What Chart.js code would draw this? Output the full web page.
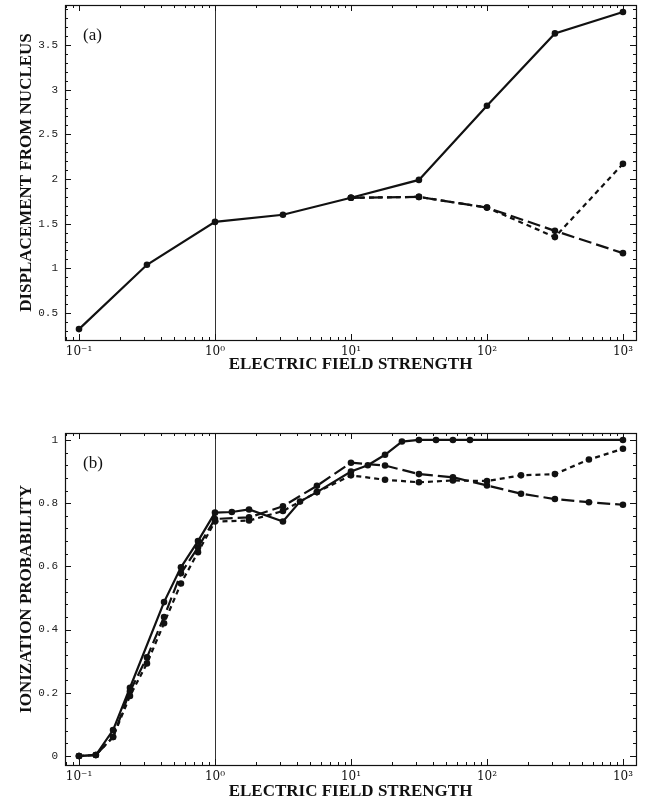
<!DOCTYPE html>
<html lang="en">
<head>
<meta charset="UTF-8">
<title>Electric field strength</title>
<script src="https://cdn.jsdelivr.net/npm/chart.js"></script>
<style>
  body { margin: 0; background: #fff; }
  canvas { display: block; }
</style>
</head>
<body>
<canvas id="chartA" width="645" height="400"></canvas>
<canvas id="chartB" width="645" height="405"></canvas>
<script>
// (a) displacement from nucleus
const fieldA = [0.1, 0.316, 1, 3.16, 10, 31.6, 100, 316, 1000];
const dispSolid = [0.32, 1.04, 1.52, 1.60, 1.79, 1.99, 2.82, 3.63, 3.87];
const fieldA2 = [10, 31.6, 100, 316, 1000];
const dispLong = [1.79, 1.80, 1.68, 1.42, 1.17];
const dispShort = [1.79, 1.80, 1.68, 1.35, 2.17];

// (b) ionization probability
const fieldSolid = [0.1, 0.133, 0.178, 0.237, 0.422, 0.562, 0.75, 1, 1.33, 1.78, 3.16, 4.22, 5.62,
                    10, 13.3, 17.8, 23.7, 31.6, 42.2, 56.2, 75, 1000];
const ionSolid = [0, 0.003, 0.082, 0.216, 0.487, 0.597, 0.68, 0.77, 0.772, 0.78, 0.742, 0.805, 0.835,
                  0.90, 0.92, 0.953, 0.995, 1, 1, 1, 1, 1];
const fieldDash = [0.1, 0.133, 0.178, 0.237, 0.316, 0.422, 0.562, 0.75, 1, 1.78, 3.16, 5.62,
                   10, 17.8, 31.6, 56.2, 100, 178, 316, 562, 1000];
const ionLong = [0, 0.003, 0.06, 0.205, 0.312, 0.44, 0.578, 0.66, 0.75, 0.755, 0.79, 0.855,
                 0.928, 0.919, 0.892, 0.882, 0.856, 0.83, 0.813, 0.803, 0.795];
const ionShort = [0, 0.003, 0.06, 0.19, 0.293, 0.42, 0.546, 0.645, 0.742, 0.745, 0.775, 0.835,
                  0.888, 0.874, 0.866, 0.872, 0.870, 0.888, 0.892, 0.938, 0.972];

// axes
const xTicks = [0.1, 1, 10, 100, 1000];
const xTickLabels = ['10⁻¹', '10⁰', '10¹', '10²', '10³'];
const yTicksA = [0.5, 1, 1.5, 2, 2.5, 3, 3.5];
const yLabelsA = ['0.5', '1', '1.5', '2', '2.5', '3', '3.5'];
const yTicksB = [0, 0.2, 0.4, 0.6, 0.8, 1];
const yLabelsB = ['0', '0.2', '0.4', '0.6', '0.8', '1'];

const ink = '#111';

// frame with inward ticks, the line at E = 1 and the panel label
const frame = {
  id: 'frame',
  beforeDatasetsDraw(chart) {
    const {ctx, chartArea: a, scales: {x}} = chart;
    const px = Math.round(x.getPixelForValue(1)) + 0.5;
    ctx.save();
    ctx.strokeStyle = '#333';
    ctx.lineWidth = 1;
    ctx.beginPath();
    ctx.moveTo(px, a.top);
    ctx.lineTo(px, a.bottom);
    ctx.stroke();
    ctx.restore();
  },
  afterDraw(chart, args, opts) {
    const {ctx, chartArea: a, scales: {x, y}} = chart;
    ctx.save();
    ctx.strokeStyle = ink;
    ctx.lineWidth = 1.2;
    ctx.strokeRect(a.left + 0.5, a.top + 0.5, a.width, a.height);
    ctx.lineWidth = 1;
    ctx.beginPath();
    for (let d = -2; d <= 3; d++) {
      for (let k = 1; k < 10; k++) {
        const v = k * Math.pow(10, d);
        if (v < x.min || v > x.max) continue;
        const px = Math.round(x.getPixelForValue(v)) + 0.5;
        const len = k === 1 ? 6 : 3;
        ctx.moveTo(px, a.bottom);
        ctx.lineTo(px, a.bottom - len);
        ctx.moveTo(px, a.top);
        ctx.lineTo(px, a.top + len);
      }
    }
    const every = Math.round(opts.major / opts.minor);
    for (let i = Math.ceil(y.min / opts.minor - 1e-9); i * opts.minor <= y.max + 1e-9; i++) {
      const py = Math.round(y.getPixelForValue(i * opts.minor)) + 0.5;
      const len = i % every === 0 ? 6 : 3;
      ctx.moveTo(a.left, py);
      ctx.lineTo(a.left + len, py);
      ctx.moveTo(a.right, py);
      ctx.lineTo(a.right - len, py);
    }
    ctx.stroke();
    ctx.fillStyle = ink;
    ctx.font = '17px "Liberation Serif"';
    ctx.textBaseline = 'middle';
    ctx.fillText(opts.label, a.left + 18, a.top + 31);
    ctx.restore();
  }
};

function series(xs, ys, dash) {
  return {
    data: xs.map((x, i) => ({x: x, y: ys[i]})),
    borderColor: ink,
    backgroundColor: ink,
    borderWidth: 2.2,
    borderDash: dash,
    pointRadius: 3.3,
    pointHoverRadius: 3.3,
    pointBorderWidth: 0,
    tension: 0
  };
}

const titleFont = {family: 'Liberation Serif', size: 17, weight: 'bold'};

function makeChart(id, datasets, o) {
  return new Chart(document.getElementById(id), {
    type: 'line',
    data: {datasets: datasets},
    options: {
      responsive: false,
      animation: false,
      devicePixelRatio: 1,
      layout: {padding: {left: 0, right: 9, top: o.top, bottom: o.bottom}},
      plugins: {
        legend: {display: false},
        tooltip: {enabled: false},
        frame: {label: o.label, minor: o.minor, major: o.major}
      },
      scales: {
        x: {
          type: 'logarithmic',
          min: Math.pow(10, -1.103),
          max: Math.pow(10, 3.096),
          afterBuildTicks: s => { s.ticks = xTicks.map(v => ({value: v})); },
          afterFit: s => { s.height = o.xHeight; s.paddingLeft = 0; s.paddingRight = 0; },
          grid: {display: false, drawTicks: false},
          border: {display: false},
          ticks: {
            callback: (v, i) => xTickLabels[i],
            font: {family: 'DejaVu Serif', size: 12},
            color: ink,
            padding: 5,
            maxRotation: 0,
            autoSkip: false
          },
          title: {display: true, text: 'ELECTRIC FIELD STRENGTH', font: titleFont, color: ink, padding: 0}
        },
        y: {
          type: 'linear',
          min: o.yMin,
          max: o.yMax,
          afterBuildTicks: s => { s.ticks = o.yTicks.map(v => ({value: v})); },
          afterFit: s => { s.width = 65; s.paddingTop = 0; s.paddingBottom = 0; },
          grid: {display: false, drawTicks: false},
          border: {display: false},
          ticks: {
            callback: (v, i) => o.yLabels[i],
            font: {family: 'Liberation Mono', size: 11},
            color: '#222',
            padding: 7
          },
          title: {display: true, text: o.yTitle, font: titleFont, color: ink, padding: {top: 16, bottom: 0}}
        }
      }
    },
    plugins: [frame]
  });
}

makeChart('chartA', [
  series(fieldA2, dispShort, [5, 4]),
  series(fieldA2, dispLong, [13, 5]),
  series(fieldA, dispSolid, [])
], {
  label: '(a)', minor: 0.1, major: 0.5,
  top: 5, bottom: 25, xHeight: 35,
  yMin: 0.198, yMax: 3.948, yTicks: yTicksA, yLabels: yLabelsA,
  yTitle: 'DISPLACEMENT FROM NUCLEUS'
});

makeChart('chartB', [
  series(fieldDash, ionShort, [5, 4]),
  series(fieldDash, ionLong, [13, 5]),
  series(fieldSolid, ionSolid, [])
], {
  label: '(b)', minor: 0.04, major: 0.2,
  top: 33, bottom: 3, xHeight: 37,
  yMin: -0.0285, yMax: 1.022, yTicks: yTicksB, yLabels: yLabelsB,
  yTitle: 'IONIZATION PROBABILITY'
});
</script>
</body>
</html>
